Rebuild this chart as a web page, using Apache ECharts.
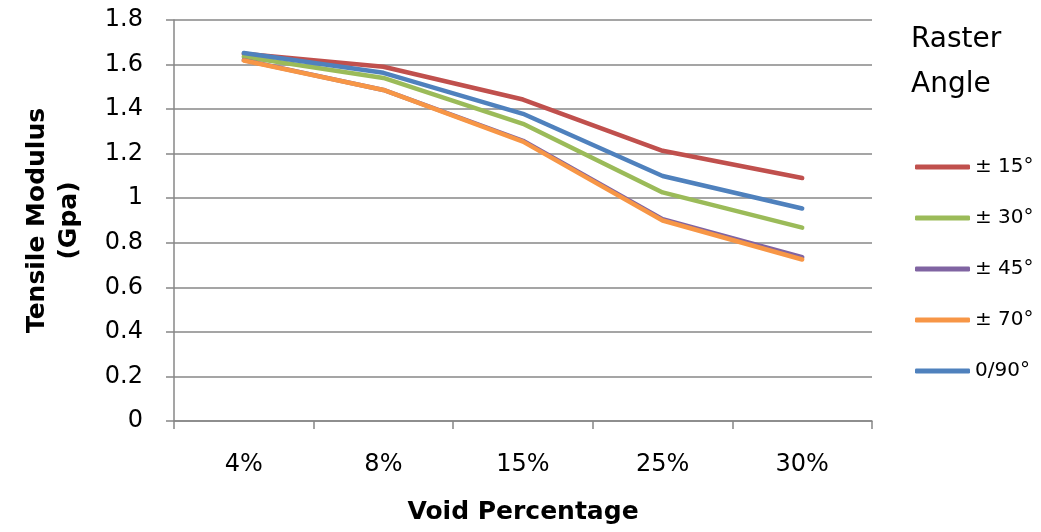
<!DOCTYPE html>
<html>
<head>
<meta charset="utf-8">
<script src="https://cdn.jsdelivr.net/npm/echarts@6/dist/echarts.min.js"></script>
<style>html,body{margin:0;padding:0;background:#fff;}#c{width:1041px;height:532px;}</style>
</head>
<body>
<div id="c"></div>
<script>
const categories = ['4%', '8%', '15%', '25%', '30%'];
const seriesNames = ['± 15°', '± 30°', '± 45°', '± 70°', '0/90°'];
const s15 = [1.648, 1.590, 1.443, 1.213, 1.091];
const s30 = [1.635, 1.540, 1.334, 1.026, 0.868];
const s45 = [1.620, 1.486, 1.258, 0.906, 0.735];
const s70 = [1.618, 1.486, 1.254, 0.900, 0.725];
const s090 = [1.652, 1.563, 1.379, 1.100, 0.954];
const yTicks = [0, 0.2, 0.4, 0.6, 0.8, 1, 1.2, 1.4, 1.6, 1.8];

const colors = ['#C0504D', '#9BBB59', '#8064A2', '#F79646', '#4F81BD'];
const data = [s15, s30, s45, s70, s090];
const FONT = '"DejaVu Sans", sans-serif';
const gray = '#878787';

const chart = echarts.init(document.getElementById('c'), null, {renderer: 'canvas'});
chart.setOption({
  animation: false,
  backgroundColor: '#fff',
  title: {
    text: 'Raster\nAngle',
    left: 911, top: 17, padding: 0,
    textStyle: {fontFamily: FONT, fontSize: 28, fontWeight: 'normal', color: '#000', lineHeight: 45}
  },
  legend: {
    orient: 'vertical',
    left: 915, top: 157, padding: 0,
    itemWidth: 55, itemHeight: 5,
    itemGap: 31,
    icon: 'roundRect',
    textStyle: {fontFamily: FONT, fontSize: 20, color: '#000', lineHeight: 20},
    data: seriesNames
  },
  grid: {left: 174, top: 20, right: 169, bottom: 109, containLabel: false},
  xAxis: {
    type: 'category',
    data: categories,
    boundaryGap: true,
    name: 'Void Percentage',
    nameLocation: 'middle',
    nameGap: 76,
    nameTextStyle: {fontFamily: FONT, fontSize: 25, fontWeight: 'bold', color: '#000', lineHeight: 30},
    axisLine: {lineStyle: {color: gray, width: 1.5}},
    axisTick: {show: true, length: 8, lineStyle: {color: gray, width: 1.5}},
    axisLabel: {fontFamily: FONT, fontSize: 24, color: '#000', margin: 32}
  },
  yAxis: {
    type: 'value',
    min: 0, max: 1.8, interval: 0.2,
    name: 'Tensile Modulus\n(Gpa)',
    nameLocation: 'middle',
    nameGap: 89,
    nameRotate: 90,
    nameTextStyle: {fontFamily: FONT, fontSize: 25, fontWeight: 'bold', color: '#000', lineHeight: 32},
    axisLine: {show: true, lineStyle: {color: gray, width: 1.5}},
    axisTick: {show: true, length: 8, lineStyle: {color: gray, width: 1.5}},
    splitLine: {show: true, lineStyle: {color: gray, width: 1.5}},
    axisLabel: {
      fontFamily: FONT, fontSize: 24, color: '#000', margin: 31,
      formatter: function (v) { const t = yTicks.find(x => Math.abs(x - v) < 1e-9); return t === undefined ? '' : String(t); }
    }
  },
  series: seriesNames.map((n, i) => ({
    name: n,
    type: 'line',
    data: data[i],
    symbol: 'none',
    color: colors[i],
    lineStyle: {width: 4.5, color: colors[i], cap: 'round', join: 'round'}
  }))
});
</script>
</body>
</html>
